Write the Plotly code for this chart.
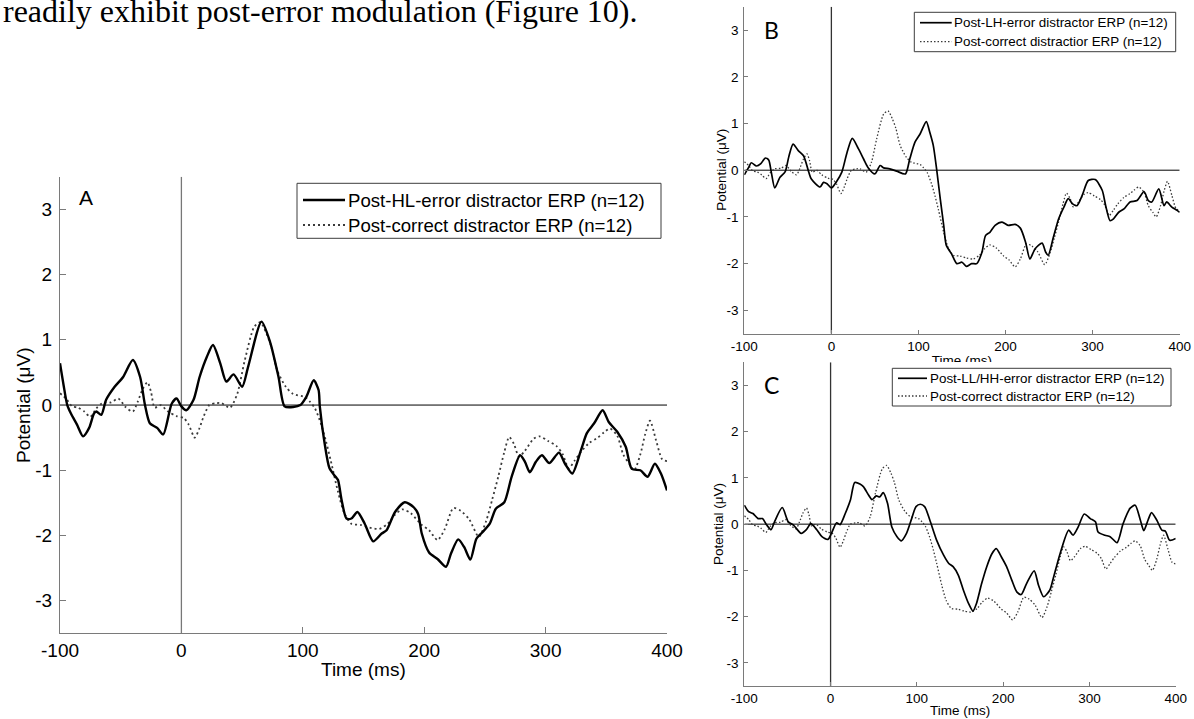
import plotly.graph_objects as go

W, H = 1194, 719

# ---------------- data ----------------
post_correct_t = [-100, -95, -90, -85, -80, -75, -70, -65, -58, -52, -46, -40, -36, -32, -28, -25, -22, -17, -11,
                  -4, 2, 6, 11, 15, 18, 23, 29, 33, 40, 46, 52, 60, 65, 70, 74, 79, 86, 92, 102, 106, 110, 115,
                  119, 123, 129, 134, 140, 148, 155, 163, 170, 176, 182, 189, 198, 204, 211, 217, 224, 230, 237,
                  245, 251, 256, 261, 266, 270, 274, 278, 283, 290, 295, 302, 309, 314, 319, 324, 329, 336, 343,
                  348, 353, 359, 364, 369, 373, 378, 382, 386, 391, 396, 400]
post_correct_v = [0.18, 0.1, -0.02, -0.04, -0.1, -0.18, -0.05, 0.03, 0.04, 0.1, -0.03, -0.1, 0.05, 0.24, 0.35, 0.2,
                  -0.04, 0.0, -0.1, -0.17, -0.2, -0.3, -0.5, -0.35, -0.19, 0.0, 0.03, 0.03, -0.04, 0.17, 0.67, 1.2,
                  1.27, 1.1, 0.9, 0.53, 0.28, 0.17, 0.12, 0.05, -0.05, -0.29, -0.55, -0.85, -1.33, -1.65, -1.82,
                  -1.84, -1.88, -1.9, -1.82, -1.68, -1.6, -1.66, -1.84, -1.92, -2.07, -1.9, -1.58, -1.62, -1.75,
                  -2.02, -1.78, -1.45, -1.1, -0.72, -0.49, -0.6, -0.79, -0.7, -0.52, -0.48, -0.55, -0.63, -0.75,
                  -0.97, -0.85, -0.72, -0.58, -0.5, -0.42, -0.36, -0.47, -0.76, -0.9, -1.0, -0.76, -0.45, -0.24,
                  -0.54, -0.83, -0.86]

post_hl_error_t = [-100, -97, -94, -91, -86, -81, -76, -72, -70, -66, -62, -55, -48, -40, -34, -30, -26, -20, -15,
                   -8, -4, 0, 4, 10, 15, 21, 26, 32, 37, 43, 50, 55, 66, 73, 80, 85, 92, 98, 103, 109, 113, 114,
                   118, 122, 127, 129, 132, 136, 140, 145, 151, 158, 165, 169, 176, 184, 191, 195, 198, 204, 211,
                   218, 222, 228, 233, 238, 243, 248, 254, 259, 266, 272, 279, 283, 287, 292, 297, 303, 311, 316,
                   322, 329, 334, 340, 347, 352, 359, 366, 371, 378, 384, 390, 395, 400]
post_hl_error_v = [0.64, 0.3, 0.0, -0.13, -0.3, -0.48, -0.35, -0.13, -0.1, -0.15, 0.08, 0.28, 0.43, 0.69, 0.43, 0.0,
                   -0.28, -0.35, -0.45, 0.02, 0.1, -0.02, -0.08, 0.08, 0.43, 0.74, 0.92, 0.64, 0.36, 0.47, 0.28,
                   0.59, 1.28, 0.97, 0.43, -0.02, -0.03, 0.0, 0.13, 0.38, 0.23, -0.02, -0.59, -0.97, -1.1, -1.15,
                   -1.46, -1.74, -1.74, -1.64, -1.82, -2.09, -1.97, -1.92, -1.64, -1.49, -1.56, -1.67, -1.97,
                   -2.26, -2.36, -2.48, -2.28, -2.06, -2.18, -2.37, -2.05, -1.95, -1.82, -1.59, -1.49, -1.1, -0.77,
                   -0.87, -1.03, -0.87, -0.77, -0.89, -0.73, -0.9, -1.05, -0.7, -0.43, -0.28, -0.08, -0.26, -0.41,
                   -0.64, -0.98, -1.0, -1.1, -0.9, -1.05, -1.31]

post_lh_error_t = [-100, -95, -92, -86, -81, -76, -72, -69, -65, -59, -53, -49, -44, -38, -32, -26, -23, -13, -9,
                   -5, 0, 6, 12, 18, 24, 31, 37, 42, 50, 56, 60, 67, 75, 85, 90, 96, 102, 109, 113, 117, 121, 125,
                   129, 132, 138, 144, 150, 155, 161, 167, 173, 177, 182, 188, 196, 203, 211, 217, 223, 228, 234,
                   242, 246, 249, 255, 261, 267, 272, 277, 282, 288, 295, 303, 311, 315, 320, 324, 330, 336, 343,
                   351, 359, 364, 368, 376, 382, 385, 391, 397, 400]
post_lh_error_v = [-0.1, 0.06, 0.16, 0.09, 0.14, 0.26, 0.22, -0.04, -0.38, -0.15, -0.03, 0.28, 0.56, 0.42, 0.31,
                   -0.04, -0.19, -0.36, -0.26, -0.29, -0.38, -0.24, -0.04, 0.38, 0.68, 0.46, 0.24, 0.06, -0.08, 0.1,
                   0.05, 0.03, -0.02, -0.08, 0.24, 0.6, 0.78, 1.04, 0.81, 0.53, 0.0, -0.61, -1.18, -1.61, -1.79,
                   -2.0, -1.97, -2.06, -2.0, -2.0, -1.75, -1.4, -1.33, -1.18, -1.11, -1.18, -1.16, -1.24, -1.54,
                   -1.9, -1.68, -1.56, -1.75, -1.82, -1.43, -1.04, -0.79, -0.61, -0.72, -0.76, -0.54, -0.22, -0.2,
                   -0.43, -0.76, -1.08, -1.04, -0.9, -0.83, -0.68, -0.65, -0.46, -0.65, -0.68, -0.4, -0.76, -0.68,
                   -0.79, -0.86, -0.9]

post_llhh_error_t = [-100, -95, -90, -84, -79, -74, -69, -65, -56, -49, -43, -34, -28, -23, -16, -10, -3, 1, 7, 11,
                     17, 23, 28, 34, 38, 44, 48, 53, 57, 61, 66, 71, 77, 82, 88, 94, 99, 104, 109, 115, 123, 131,
                     137, 142, 148, 154, 160, 165, 169, 175, 181, 187, 192, 198, 204, 210, 216, 221, 227, 236, 241,
                     247, 254, 258, 266, 276, 281, 287, 294, 301, 307, 310, 318, 324, 332, 339, 347, 353, 359, 363,
                     368, 372, 378, 384, 388, 393, 400]
post_llhh_error_v = [0.41, 0.27, 0.23, 0.12, 0.12, -0.02, -0.12, 0.05, 0.36, 0.05, -0.02, -0.2, -0.12, 0.01, -0.12,
                     -0.27, -0.33, -0.2, 0.03, -0.01, 0.23, 0.52, 0.9, 0.87, 0.81, 0.63, 0.53, 0.61, 0.59, 0.68,
                     0.45, -0.06, -0.27, -0.36, -0.2, 0.12, 0.38, 0.43, 0.38, 0.09, -0.35, -0.67, -0.85, -0.92,
                     -1.1, -1.43, -1.72, -1.88, -1.72, -1.29, -0.92, -0.64, -0.53, -0.71, -0.92, -1.21, -1.47,
                     -1.52, -1.29, -1.01, -1.32, -1.57, -1.43, -1.18, -0.64, -0.13, -0.24, -0.06, 0.22, 0.12, 0.05,
                     -0.17, -0.24, -0.27, -0.4, 0.01, 0.34, 0.41, 0.09, -0.14, 0.09, 0.25, 0.09, -0.13, -0.15,
                     -0.35, -0.31]

x_tickvals = [-100, 0, 100, 200, 300, 400]
x_ticktext = ["-100", "0", "100", "200", "300", "400"]
y_tickvals = [-3, -2, -1, 0, 1, 2, 3]
y_ticktext = ["-3", "-2", "-1", "0", "1", "2", "3"]

legend_A = ["Post-HL-error distractor ERP (n=12)", "Post-correct distractor ERP (n=12)"]
legend_B = ["Post-LH-error distractor ERP (n=12)", "Post-correct distractior ERP (n=12)"]
legend_C = ["Post-LL/HH-error distractor ERP (n=12)", "Post-correct distractor ERP (n=12)"]

# ---------------- helpers ----------------
def px(x):
    return x / W

def py(y):
    return 1 - y / H

ARIAL = "Liberation Sans, Arial, sans-serif"
AXGREY = "#7a7a7a"

fig = go.Figure()

panels = [
    dict(ax="", xd=(60, 667), yd=(176.8, 633.3), st=post_hl_error_t, sv=post_hl_error_v,
         fs=19, tl=6, sw=2.4, dw=1.8, dash="2px,3px", vcol="#777777", sx=0, sy=3),
    dict(ax="2", xd=(744.3, 1179.7), yd=(6.7, 333.7), st=post_lh_error_t, sv=post_lh_error_v,
         fs=13.5, tl=4, sw=1.7, dw=1.3, dash="1.5px,2px", vcol="#333333", sx=0, sy=2),
    dict(ax="3", xd=(744.3, 1175.7), yd=(362.3, 686), st=post_llhh_error_t, sv=post_llhh_error_v,
         fs=13.5, tl=4, sw=1.7, dw=1.3, dash="1.5px,2px", vcol="#333333", sx=0, sy=2),
]

for p in panels:
    xa, ya = "x" + p["ax"], "y" + p["ax"]
    fig.add_trace(go.Scatter(x=post_correct_t, y=post_correct_v, mode="lines", xaxis=xa, yaxis=ya,
                             line=dict(color="#3a3a3a", width=p["dw"], dash=p["dash"], shape="spline",
                                       smoothing=0.7), showlegend=False, hoverinfo="skip"))
    fig.add_trace(go.Scatter(x=p["st"], y=p["sv"], mode="lines", xaxis=xa, yaxis=ya,
                             line=dict(color="#000000", width=p["sw"], shape="spline", smoothing=0.7),
                             showlegend=False, hoverinfo="skip"))
    axcommon = dict(showgrid=False, zeroline=False, showline=True, linecolor=AXGREY, linewidth=1.3,
                    mirror=False, ticks="inside", ticklen=p["tl"], tickcolor=AXGREY, tickwidth=1.2,
                    automargin=False, tickfont=dict(family=ARIAL, size=p["fs"], color="#000000"))
    xk = "xaxis" + p["ax"]
    yk = "yaxis" + p["ax"]
    fig.update_layout(**{
        xk: dict(domain=[px(p["xd"][0]), px(p["xd"][1])], range=[-100, 400], anchor=ya,
                 tickvals=x_tickvals, ticktext=x_ticktext, ticklabelstandoff=p["sx"], **axcommon),
        yk: dict(domain=[py(p["yd"][1]), py(p["yd"][0])], range=[-3.5, 3.5], anchor=xa,
                 tickvals=y_tickvals, ticktext=y_ticktext, ticklabelstandoff=p["sy"], **axcommon),
    })
    fig.add_shape(type="line", xref=xa, yref=ya, x0=-100, x1=400, y0=0, y1=0,
                  line=dict(color="#000000", width=1), layer="below")
    fig.add_shape(type="line", xref=xa, yref=ya, x0=0, x1=0, y0=-3.5, y1=3.5,
                  line=dict(color=p["vcol"], width=1.3), layer="below")

# ---------------- legends (drawn boxes) ----------------
def add_legend(box, sample, text_x, rows, labels, fs, sw, dw, dash):
    x0, y0, x1, y1 = box
    fig.add_shape(type="rect", xref="paper", yref="paper", x0=px(x0), x1=px(x1), y0=py(y1), y1=py(y0),
                  line=dict(color="#3c3c3c", width=1), fillcolor="white", layer="above")
    fig.add_shape(type="line", xref="paper", yref="paper", x0=px(sample[0]), x1=px(sample[1]),
                  y0=py(rows[0]), y1=py(rows[0]), line=dict(color="#000000", width=sw), layer="above")
    fig.add_shape(type="line", xref="paper", yref="paper", x0=px(sample[0]), x1=px(sample[1]),
                  y0=py(rows[1]), y1=py(rows[1]), line=dict(color="#3a3a3a", width=dw, dash=dash),
                  layer="above")
    for r, lab in zip(rows, labels):
        fig.add_annotation(text=lab, xref="paper", yref="paper", x=px(text_x), y=py(r), xanchor="left",
                           yanchor="middle", showarrow=False, font=dict(family=ARIAL, size=fs, color="#000"))

add_legend((297, 183.3, 661, 238.3), (303, 345), 346, (200, 225), legend_A, 18.6, 2.4, 1.8, "2px,3px")
add_legend((914.3, 12.3, 1175.7, 51.7), (920, 951.7), 952, (22.7, 41.7), legend_B, 13.4, 1.7, 1.3, "1.5px,2px")
add_legend((892.3, 368.3, 1171, 406), (898, 927), 928, (378.3, 396), legend_C, 13.4, 1.7, 1.3, "1.5px,2px")

# ---------------- texts ----------------
def text(t, x, y, fs, family=ARIAL, angle=0, xanchor="center"):
    fig.add_annotation(text=t, xref="paper", yref="paper", x=px(x), y=py(y), xanchor=xanchor,
                       yanchor="middle", showarrow=False, textangle=angle,
                       font=dict(family=family, size=fs, color="#000"))

text("A", 86, 197, 21)
text("B", 771.7, 30, 23, family="Lato, Open Sans, sans-serif")
text("C", 771.7, 385, 23, family="Lato, Open Sans, sans-serif")
text("Potential (μV)", 23, 405, 19, angle=-90)
text("Potential (μV)", 720.7, 170, 13.5, angle=-90)
text("Potential (μV)", 718, 524, 13.5, angle=-90)
text("Time (ms)", 363.5, 669, 19)
text("Time (ms)", 960, 710.5, 13.5)
text("readily exhibit post-error modulation (Figure 10).", 1, 11, 32,
     family="Liberation Serif, Times New Roman, serif", xanchor="left")

# partially hidden x title of panel B (cut off by panel C's picture)
fig.add_trace(go.Scatter(x=[0.5], y=[0.0], mode="text", text=["Time (ms)"], textposition="middle center",
                         textfont=dict(family=ARIAL, size=13.5, color="#000"), cliponaxis=True,
                         xaxis="x4", yaxis="y4", showlegend=False, hoverinfo="skip"))
fig.update_layout(
    xaxis4=dict(domain=[px(744.3), px(1179.7)], range=[0, 1], visible=False, anchor="y4"),
    yaxis4=dict(domain=[py(362), py(340)], range=[0, 1], visible=False, anchor="x4"),
)

fig.update_layout(template="none", width=W, height=H, margin=dict(l=0, r=0, t=0, b=0),
                  paper_bgcolor="white", plot_bgcolor="white", showlegend=False)

fig.write_html("out.html")
